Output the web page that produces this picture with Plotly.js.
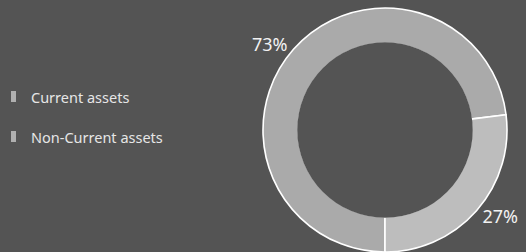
<!DOCTYPE html>
<html><head><meta charset="utf-8">
<script src="https://cdn.plot.ly/plotly-3.0.1.min.js"></script>
<style>html,body{margin:0;padding:0;background:#545454;}#c{width:526px;height:252px;}</style>
</head><body><div id="c"></div>
<script>
const categories = ["Current assets", "Non-Current assets"];
const values = [73, 27];
const sliceColors = ["#aaaaaa", "#bdbdbd"];
const legendColors = ["#b0b0b0", "#b0b0b0"];

const W = 526, H = 252;
const cx = 385, cy = 130, R = 122, HOLE = 0.71;
const BG = "#545454";

const trace = {
  type: "pie",
  labels: categories,
  values: values,
  hole: HOLE,
  sort: false,
  direction: "clockwise",
  rotation: 180,
  textinfo: "percent",
  texttemplate: "%{percent:.0%}",
  textposition: "outside",
  textfont: {color: "#f2f2f2", size: 18, family: "'Noto Sans', sans-serif"},
  marker: {colors: sliceColors, line: {color: "#ffffff", width: 1.6}},
  showlegend: false,
  hoverinfo: "none",
  domain: {x: [(cx - R) / W, (cx + R) / W], y: [(H - cy - R) / H, (H - cy + R) / H]}
};

const shapes = [], annotations = [];
// cover the inner rim stroke so only outer edge and separators are white
const rIn = R * HOLE + 1.1;
shapes.push({type: "circle", xref: "paper", yref: "paper", layer: "above",
  x0: (cx - rIn) / W, x1: (cx + rIn) / W, y0: 1 - (cy + rIn) / H, y1: 1 - (cy - rIn) / H,
  fillcolor: BG, line: {width: 0}});

const legendY = [97, 137];
categories.forEach((c, i) => {
  shapes.push({type: "rect", xref: "paper", yref: "paper",
    x0: 11 / W, x1: 16 / W, y0: 1 - (legendY[i] + 5) / H, y1: 1 - (legendY[i] - 6) / H,
    fillcolor: legendColors[i], line: {width: 0}});
  annotations.push({xref: "paper", yref: "paper", x: 29 / W, y: 1 - legendY[i] / H,
    xanchor: "left", yanchor: "middle", showarrow: false, text: c,
    font: {color: "#e6e6e6", size: 14.5, family: "'Noto Sans', sans-serif"}});
});

Plotly.newPlot("c", [trace], {
  width: W, height: H,
  margin: {l: 0, r: 0, t: 0, b: 0},
  paper_bgcolor: BG, plot_bgcolor: BG,
  showlegend: false,
  shapes: shapes, annotations: annotations
}, {staticPlot: true, displayModeBar: false});
</script></body></html>
